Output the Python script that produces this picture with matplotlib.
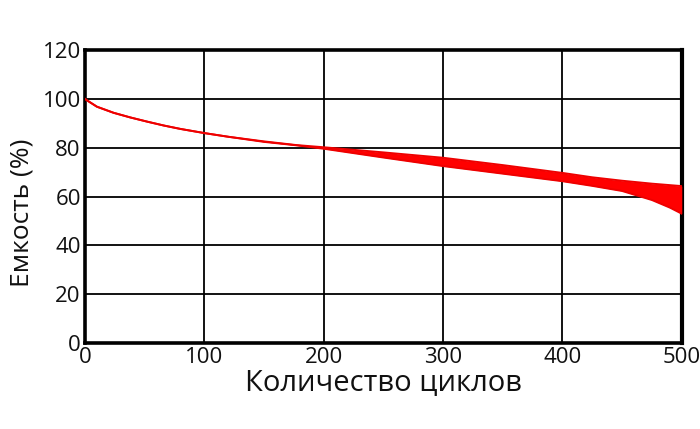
import matplotlib
matplotlib.use("Agg")
import matplotlib.pyplot as plt

# ── data ─────────────────────────────────────────────────────────────────────
cycles = [0, 2, 10, 24, 38, 52, 66, 80, 100, 120, 150, 177, 200,
          250, 300, 350, 400, 425, 450, 475, 490, 500]
cap_upper = [100, 99.3, 96.8, 94.3, 92.4, 90.7, 89.1, 87.7, 86.0, 84.5, 82.6, 81.1, 80.2,
             78.1, 75.9, 72.9, 69.7, 67.9, 66.5, 65.3, 64.7, 64.3]
cap_lower = [100, 99.3, 96.8, 94.3, 92.4, 90.7, 89.1, 87.7, 86.0, 84.5, 82.4, 81.0, 79.6,
             76.0, 72.5, 69.4, 66.3, 64.4, 62.3, 58.6, 55.5, 53.0]

x_ticks = [0, 100, 200, 300, 400, 500]
y_ticks = [0, 20, 40, 60, 80, 100, 120]

plt.rcParams["font.family"] = ["Open Sans", "DejaVu Sans"]

fig = plt.figure(figsize=(7, 4.29), dpi=100)
ax = fig.add_axes([0.1214, 0.2, 0.8526, 0.6834])

ax.fill_between(cycles, cap_lower, cap_upper, color="#ff0000", linewidth=0, zorder=3)
for vals in (cap_upper, cap_lower):
    ax.plot(cycles, vals, color="#ee0000", linewidth=1.4,
            solid_joinstyle="round", zorder=3)

ax.set_xlim(0, 500)
ax.set_ylim(0, 120)
ax.set_xticks(x_ticks)
ax.set_yticks(y_ticks)
ax.tick_params(length=0, labelsize=16, pad=3, colors="#111111")
ax.grid(color="black", linewidth=1.3)
for s in ax.spines.values():
    s.set_linewidth(2.6)
    s.set_color("black")
ax.spines["right"].set_linewidth(3)

ax.set_xlabel("Количество циклов", fontsize=21, labelpad=0, color="#111111")
# y label placed by hand, a bit below the axes centre as in the reference
fig.text(22 / 700, 1 - 213 / 429, "Емкость (%)", rotation=90, fontsize=19,
         ha="center", va="center", color="#111111")

fig.savefig("out.png", dpi=100)
